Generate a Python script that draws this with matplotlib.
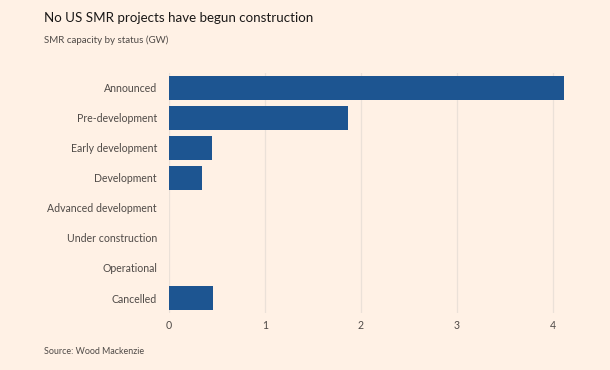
import matplotlib.pyplot as plt

# data (GW)
statuses = ['Announced', 'Pre-development', 'Early development', 'Development',
            'Advanced development', 'Under construction', 'Operational', 'Cancelled']
capacity = [4.11, 1.86, 0.45, 0.34, 0, 0, 0, 0.46]
xticks = [0, 1, 2, 3, 4]

bg = '#fff1e5'
bar_color = '#1d5591'
text_grey = '#4f4a47'

plt.rcParams['font.family'] = ['Lato', 'DejaVu Sans']

fig = plt.figure(figsize=(6.1, 3.7), dpi=100, facecolor=bg)
ax = fig.add_axes([0.277, 0.154, 0.669, 0.649], facecolor=bg)

ypos = list(range(len(statuses)))
ax.barh(ypos, capacity, height=0.8, color=bar_color, zorder=3)
ax.set_ylim(len(statuses) - 0.5, -0.5)
ax.set_xlim(0, 4.25)

ax.set_yticks(ypos)
ax.set_yticklabels(statuses)
ax.set_xticks(xticks)
ax.set_xticklabels([str(t) for t in xticks])
ax.tick_params(axis='y', length=0, pad=8.6, labelsize=7.6, labelcolor=text_grey)
ax.tick_params(axis='x', length=0, pad=5, labelsize=7.6, labelcolor=text_grey)

ax.grid(axis='x', color='#ebe1d8', linewidth=0.9, zorder=0)
for s in ax.spines.values():
    s.set_visible(False)

fig.text(44 / 610, 1 - 18 / 370, 'No US SMR projects have begun construction',
         fontsize=9.6, color='#1a1817', va='center', ha='left')
fig.text(44 / 610, 1 - 40 / 370, 'SMR capacity by status (GW)',
         fontsize=7.0, color=text_grey, va='center', ha='left')
fig.text(44 / 610, 1 - 352 / 370, 'Source: Wood Mackenzie',
         fontsize=6.4, color=text_grey, va='center', ha='left')

fig.savefig('out.png', dpi=100, facecolor=bg)
